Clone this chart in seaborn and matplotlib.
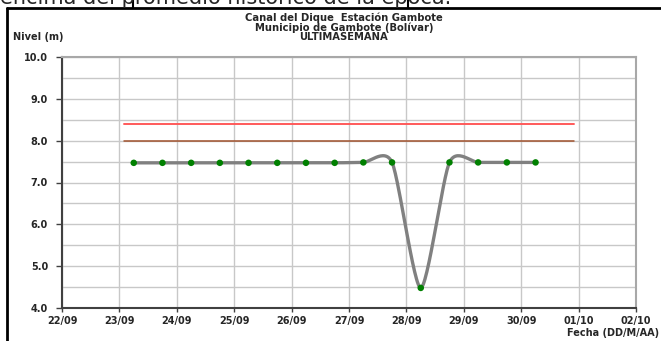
import numpy as np
import pandas as pd
import matplotlib.pyplot as plt
import matplotlib.dates as mdates
import seaborn as sns

sns.set_style("white")
plt.rcParams["font.family"] = ["DejaVu Sans"]
plt.rcParams["font.weight"] = "bold"

# Data
fechas = pd.to_datetime([
    "2013-09-23 06:00", "2013-09-23 18:00", "2013-09-24 06:00", "2013-09-24 18:00",
    "2013-09-25 06:00", "2013-09-25 18:00", "2013-09-26 06:00", "2013-09-26 18:00",
    "2013-09-27 06:00", "2013-09-27 18:00", "2013-09-28 06:00", "2013-09-28 18:00",
    "2013-09-29 06:00", "2013-09-29 18:00", "2013-09-30 06:00",
])
niveles = [7.47, 7.47, 7.47, 7.47, 7.47, 7.47, 7.47, 7.47,
           7.48, 7.48, 4.48, 7.48, 7.48, 7.48, 7.48]

ref_inicio = pd.Timestamp("2013-09-23 01:45")
ref_fin = pd.Timestamp("2013-09-30 22:00")
nivel_alerta = 8.4     # red line
nivel_promedio = 8.0   # brown line

x_min = pd.Timestamp("2013-09-22")
x_max = pd.Timestamp("2013-10-02")
titulo = ["Canal del Dique  Estación Gambote",
          "Municipio de Gambote (Bolívar)",
          "ULTIMASEMANA"]


def suavizar(x, y, k=0.12, n=30):
    # Excel-like smoothed line: cubic Bezier between points
    x = np.asarray(x, float)
    y = np.asarray(y, float)
    px, py = [], []
    for i in range(len(x) - 1):
        i0 = max(i - 1, 0)
        i3 = min(i + 2, len(x) - 1)
        c1x = x[i] + (x[i + 1] - x[i0]) * k
        c1y = y[i] + (y[i + 1] - y[i0]) * k
        c2x = x[i + 1] - (x[i3] - x[i]) * k
        c2y = y[i + 1] - (y[i3] - y[i]) * k
        t = np.linspace(0, 1, n)
        bx = (1 - t) ** 3 * x[i] + 3 * (1 - t) ** 2 * t * c1x + 3 * (1 - t) * t ** 2 * c2x + t ** 3 * x[i + 1]
        by = (1 - t) ** 3 * y[i] + 3 * (1 - t) ** 2 * t * c1y + 3 * (1 - t) * t ** 2 * c2y + t ** 3 * y[i + 1]
        px.extend(bx)
        py.extend(by)
    return np.array(px), np.array(py)


fig = plt.figure(figsize=(6.61, 3.41), dpi=100)
ax = fig.add_axes([62 / 661, 1 - 308 / 341, (636 - 62) / 661, (308 - 57) / 341])

xn = mdates.date2num(fechas)
sx, sy = suavizar(xn, niveles)
curva = pd.DataFrame({"fecha": mdates.num2date(sx), "nivel": sy})
puntos = pd.DataFrame({"fecha": fechas, "nivel": niveles})

ax.plot([ref_inicio, ref_fin], [nivel_alerta] * 2, color="#ff5a5a", lw=1.4, zorder=2)
ax.plot([ref_inicio, ref_fin], [nivel_promedio] * 2, color="#a0522d", lw=1.1, zorder=2)
sns.lineplot(data=curva, x="fecha", y="nivel", ax=ax, color="#808080", lw=2.4,
             sort=False, estimator=None, zorder=3)
sns.scatterplot(data=puntos, x="fecha", y="nivel", ax=ax, color="#008000",
                s=22, edgecolor="none", zorder=4)

ax.set_xlim(x_min, x_max)
ax.set_ylim(4, 10)
ax.xaxis.set_major_locator(mdates.DayLocator())
ax.xaxis.set_major_formatter(mdates.DateFormatter("%d/%m"))
ax.set_yticks(np.arange(4, 10.01, 1))
ax.set_yticks(np.arange(4.5, 10, 1), minor=True)
ax.yaxis.set_major_formatter(plt.FormatStrFormatter("%.1f"))
ax.grid(True, which="both", color="#c8c8c8", lw=1)
ax.tick_params(axis="x", which="major", labelsize=7, length=3, width=1,
               color="#404040", direction="out", pad=3)
ax.tick_params(axis="y", which="major", labelsize=7, length=4, width=1,
               color="#404040", direction="out", pad=6)
ax.tick_params(axis="y", which="minor", length=0)
ax.tick_params(bottom=True, left=True)
ax.set_xlabel("")
ax.set_ylabel("")
for lab in ax.get_xticklabels() + ax.get_yticklabels():
    lab.set_fontweight("bold")
for s in ["top", "right"]:
    ax.spines[s].set_color("#a8a8a8")
    ax.spines[s].set_linewidth(1.5)
for s in ["left", "bottom"]:
    ax.spines[s].set_color("#404040")
    ax.spines[s].set_linewidth(1.5)

for linea, yp in zip(titulo, [17.5, 27.5, 37.5]):
    fig.text(344 / 661, 1 - yp / 341, linea, ha="center", va="center",
             fontsize=7.2, fontweight="bold")
fig.text(13 / 661, 1 - 37 / 341, "Nivel (m)", ha="left", va="center", fontsize=7,
         fontweight="bold")
fig.text(659 / 661, 1 - 333 / 341, "Fecha (DD/M/AA)", ha="right", va="center",
         fontsize=7, fontweight="bold")

# page text cut off above the chart box
fig.text(0, 1 - 4 / 341, "encima del promedio histórico de la época.",
         ha="left", va="baseline", fontsize=15, fontweight="normal")
# chart box border
fig.add_artist(plt.Line2D([7 / 661, 1.0], [1 - 8 / 341] * 2, color="black", lw=2,
                          transform=fig.transFigure))
fig.add_artist(plt.Line2D([7 / 661] * 2, [1 - 8 / 341, 0.0], color="black", lw=2,
                          transform=fig.transFigure))
for xp in [133, 408]:
    fig.add_artist(plt.Line2D([xp / 661] * 2, [1.0, 1 - 8 / 341], color="black",
                              lw=1.5, transform=fig.transFigure))

fig.savefig("out.png", dpi=100)
